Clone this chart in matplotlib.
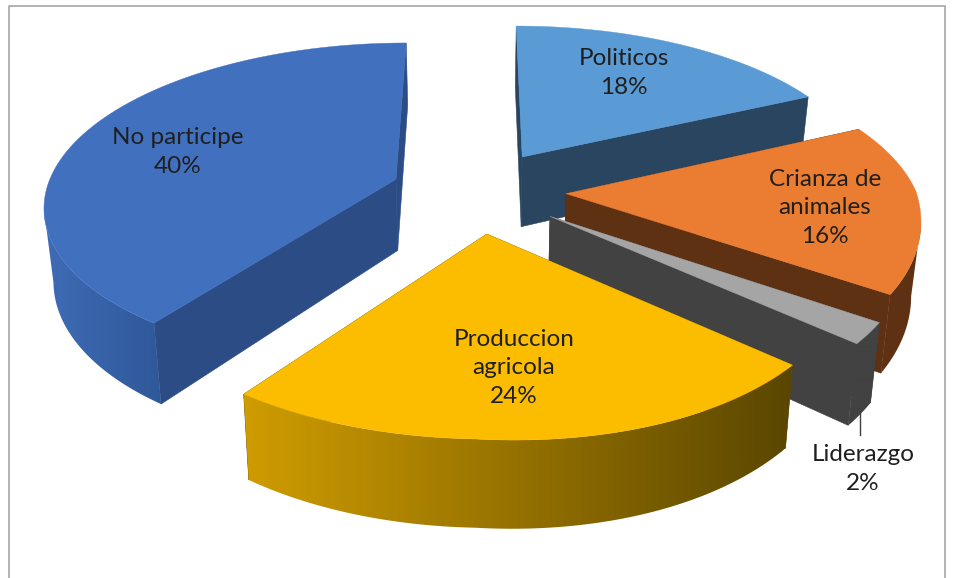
import numpy as np
from matplotlib import pyplot as plt
from matplotlib.colors import LinearSegmentedColormap
from matplotlib.patches import Polygon

plt.rcParams['font.family'] = ['Lato', 'DejaVu Sans']

# Slices in clockwise order starting from the top of the pie
categorias = ['Politicos', 'Crianza de\nanimales', 'Liderazgo', 'Produccion\nagricola', 'No participe']
valores = [18, 16, 2, 24, 40]
explosao = [0.26, 0.26, 0.26, 0.26, 0.24]
cor_topo = ['#5B9BD5', '#EB7D32', '#A5A5A5', '#FCBD00', '#4170BF']
cor_radial = ['#2A4560', '#5F3113', '#424242', '#5F4A00', '#2C4C85']
cor_arco = [('#2A4560', '#2A4560'), ('#5F3113', '#5F3113'), ('#424242', '#424242'),
            ('#CF9C00', '#5A4600'), ('#3F6CB6', '#2F5899')]
pos_rotulo = [(624, 73), (825, 208), (863, 469), (514, 368), (178, 152)]

# Projection of the pie disc onto the figure, in pixels
CX, CY = 475, 191
A, B = 350, 160
K = 0.15
ALTURA = 72
CONV = 0.022


def Projeta(X, Y):
    s = 1 / (1 - K * Y)
    torcao = np.maximum(X, 0) * np.maximum(Y, 0)  # front right sags a little
    return CX + A * X * s - 10 * torcao, CY + B * Y * s + 12 * torcao, s


def Fatia(t0, t1, d):
    """Returns top and bottom outlines for a slice between two angles (degrees)"""
    meio = np.radians((t0 + t1) / 2)
    ox, oy = d * np.sin(meio), -d * np.cos(meio)
    t = np.radians(np.linspace(t0, t1, 181))
    x, y, s = Projeta(ox + np.sin(t), oy - np.cos(t))
    xb = x + (CX - x) * CONV
    yb = y + ALTURA * s
    ax0, ay0, as0 = Projeta(ox, oy)
    apice = (ax0, ay0)
    apice_b = (ax0 + (CX - ax0) * CONV, ay0 + ALTURA * as0)
    return t, x, y, xb, yb, apice, apice_b


def ArcoVisivel(t, x):
    """Indices of the arc facing the viewer, from its rightmost to its leftmost point"""
    i = np.where(np.cos(t) < 0.35)[0]
    if len(i) < 2:
        return i[:0]
    a = i[np.argmax(x[i])]
    b = i[np.argmin(x[i])]
    return np.arange(a, (b if b > a else i[-1]) + 1)


def Parede(x, y, xb, yb, idx):
    """Outline of the outer wall along the given arc points"""
    return list(zip(x[idx], y[idx])) + list(zip(xb[idx][::-1], yb[idx][::-1]))


fig = plt.figure(figsize=(9.58, 5.78), dpi=100)
ax = fig.add_axes([0, 0, 1, 1])

# chart frame
ax.plot([9.5, 9.5, 945.5, 945.5], [578, 5.5, 5.5, 578], color='#A6A6A6', lw=1.2, zorder=1)

limites = np.cumsum([0] + valores) / sum(valores) * 360
# back slices first so the nearer ones cover them
ordem = [0, 4, 1, 2, 3]
z = 2
for n in ordem:
    t, x, y, xb, yb, ap, apb = Fatia(limites[n], limites[n + 1], explosao[n])
    na_frente = ArcoVisivel(t, x)

    # the two cut faces of the slice
    for i in (0, -1):
        face = [ap, (x[i], y[i]), (xb[i], yb[i]), apb]
        ax.add_patch(Polygon(face, closed=True, fc=cor_radial[n], ec=cor_radial[n], lw=0.4, zorder=z))
    z += 1
    if len(na_frente) > 1:
        contorno = Polygon(Parede(x, y, xb, yb, na_frente), closed=True, fc='none', ec='none', zorder=z)
        ax.add_patch(contorno)
        cmap = LinearSegmentedColormap.from_list('arco', cor_arco[n])
        x0, x1 = min(x[na_frente].min(), xb[na_frente].min()), max(x[na_frente].max(), xb[na_frente].max())
        y0, y1 = min(y[na_frente].min(), yb[na_frente].min()), max(y[na_frente].max(), yb[na_frente].max())
        # horizontal shading across the wall
        im = ax.imshow(np.linspace(0, 1, 256)[None, :], cmap=cmap, extent=(x0, x1, y1, y0),
                       aspect='auto', interpolation='bilinear', zorder=z)
        im.set_clip_path(contorno)
    z += 1
    topo = [ap] + list(zip(x, y))
    ax.add_patch(Polygon(topo, closed=True, fc=cor_topo[n], ec=cor_topo[n], lw=0.3, zorder=z))
    z += 1

# leader line for the small slice
ax.plot([860, 860], [411, 435], color='#404040', lw=1, zorder=z)

for cat, val, (px, py) in zip(categorias, valores, pos_rotulo):
    ax.text(px, py, f'{cat}\n{val}%', ha='center', va='center', fontsize=17.5,
            color='#1F1F1F', linespacing=1.47, zorder=z + 1)

ax.set_xlim(0, 958)
ax.set_ylim(578, 0)
ax.axis('off')

fig.savefig('out.png', dpi=100)
